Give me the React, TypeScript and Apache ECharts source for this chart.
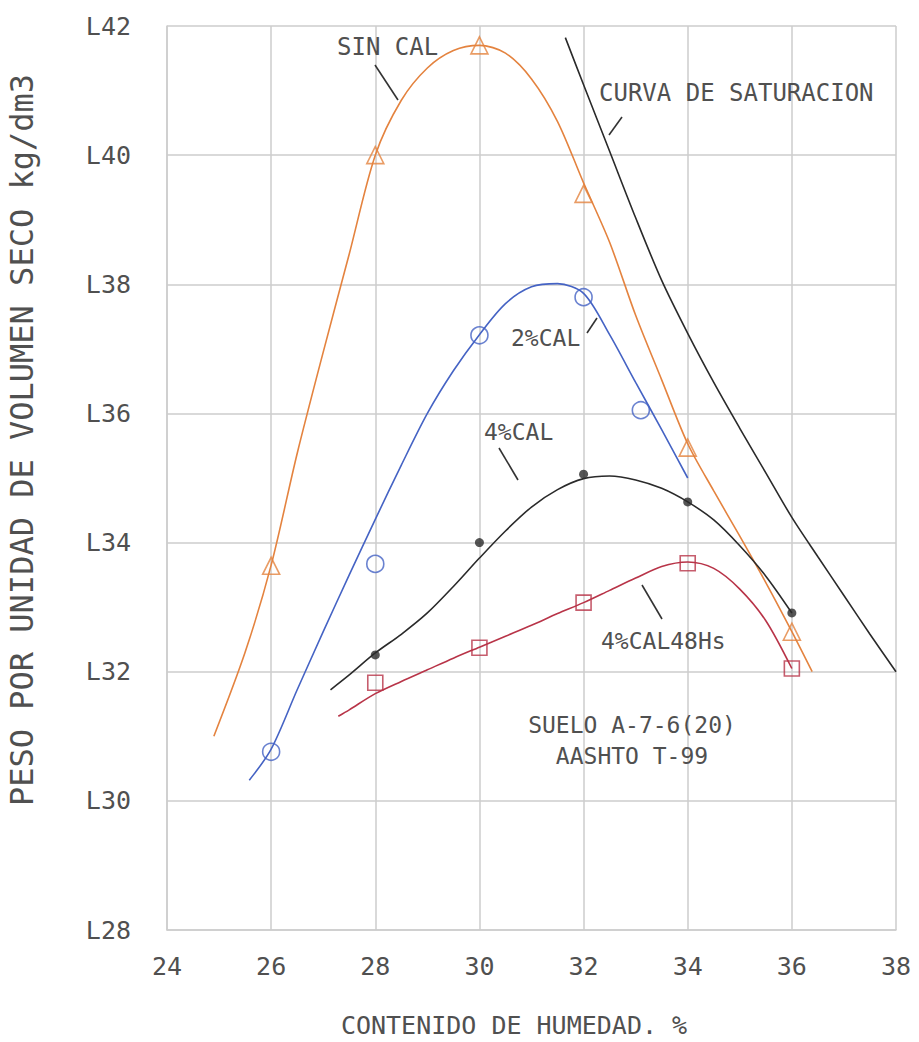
import React, { useEffect, useRef } from "react";
import * as echarts from "echarts";

// ---- Data ----
const xTicks = [24, 26, 28, 30, 32, 34, 36, 38];
const yTickLabels = ["L28", "L30", "L32", "L34", "L36", "L38", "L40", "L42"];

// SIN CAL (triangles)
const sinCalX = [26, 28, 30, 32, 34, 36];
const sinCalY = [1.3364, 1.4, 1.417, 1.394, 1.3547, 1.3262];
const sinCalCurve = [
  [24.9, 1.31], [25.5, 1.323], [26, 1.3365], [26.5, 1.3538], [27, 1.3695], [27.5, 1.3847],
  [28, 1.4], [28.5, 1.4085], [29, 1.4135], [29.5, 1.4162], [30, 1.417], [30.5, 1.4158],
  [31, 1.4118], [31.5, 1.4052], [32, 1.3957], [32.5, 1.3865], [33, 1.3752], [33.5, 1.3652],
  [34, 1.3553], [34.5, 1.348], [35, 1.341], [35.5, 1.3338], [36, 1.3262], [36.39, 1.32],
];

// 2% CAL (circles)
const cal2X = [26, 28, 30, 32, 33.1];
const cal2Y = [1.3076, 1.3367, 1.3721, 1.378, 1.3605];
const cal2Curve = [
  [25.58, 1.3032], [26, 1.308], [26.5, 1.3172], [27, 1.3262], [27.5, 1.335], [28, 1.3436],
  [28.5, 1.352], [29, 1.36], [29.5, 1.3666], [30, 1.3722], [30.5, 1.377], [31, 1.3796],
  [31.5, 1.3801], [32, 1.3786], [32.5, 1.3722], [33, 1.3648], [33.5, 1.3575], [34, 1.35],
];

// 4% CAL (filled dots)
const cal4X = [28, 30, 32, 34, 36];
const cal4Y = [1.3226, 1.34, 1.3506, 1.3463, 1.3291];
const cal4Curve = [
  [27.14, 1.3172], [27.5, 1.3195], [28, 1.3229], [28.5, 1.3258], [29, 1.3291], [29.5, 1.3332],
  [30, 1.3376], [30.5, 1.3418], [31, 1.3455], [31.5, 1.3482], [32, 1.3499], [32.5, 1.3503],
  [33, 1.3497], [33.5, 1.3484], [34, 1.3463], [34.5, 1.3435], [35, 1.3395], [35.5, 1.3348],
  [36, 1.3291],
];

// 4% CAL 48Hs (squares)
const cal48X = [28, 30, 32, 34, 36];
const cal48Y = [1.3183, 1.3237, 1.3307, 1.3368, 1.3205];
const cal48Curve = [
  [27.29, 1.3131], [27.5, 1.3141], [28, 1.3166], [28.5, 1.3185], [29, 1.3203], [29.5, 1.3221],
  [30, 1.3238], [30.5, 1.3255], [31, 1.3272], [31.5, 1.329], [32, 1.3307], [32.5, 1.3326],
  [33, 1.3345], [33.5, 1.3363], [34, 1.337], [34.5, 1.336], [35, 1.3328], [35.5, 1.3279],
  [36, 1.3205],
];

// Curva de saturacion
const satCurve = [
  [31.65, 1.4182], [32, 1.4109], [32.5, 1.4006], [33, 1.3903], [33.5, 1.3806], [34, 1.3724],
  [34.5, 1.3648], [35, 1.3577], [35.5, 1.3508], [36, 1.3439], [36.5, 1.3378], [37, 1.3318],
  [37.5, 1.3258], [38, 1.32],
];

const FONT = '"DejaVu Sans Mono", monospace';
const TXT = "#505050";
const ORANGE = "#E4833F";
const BLUE = "#4563C4";
const BLACK = "#2a2a2a";
const RED = "#B83448";
const GRID = "#cdcdcd";

function zip(xs: number[], ys: number[]) {
  return xs.map((x, i) => [x, ys[i]]);
}

export default function App() {
  const ref = useRef<HTMLDivElement>(null);
  useEffect(() => {
    if (!ref.current) return;
    const chart = echarts.init(ref.current, null, { renderer: "svg" });

    const curve = (name: string, data: number[][], color: string) => ({
      name,
      type: "line",
      data,
      smooth: 0.3,
      showSymbol: false,
      symbol: "none",
      lineStyle: { color, width: 1.6 },
      z: 2,
    });
    const marks = (name: string, data: number[][], color: string, symbol: string, size: number, filled = false) => ({
      name,
      type: "scatter",
      data,
      symbol,
      symbolSize: size,
      itemStyle: filled
        ? { color }
        : { color: "transparent", borderColor: color, borderWidth: 1.6 },
      z: 3,
    });

    const lbl = (text: string, x: number, y: number, size = 24, align = "left") => ({
      type: "text",
      x,
      y,
      style: {
        text,
        font: `${size}px ${FONT}`,
        fill: TXT,
        textAlign: align,
        textVerticalAlign: "middle",
      },
      z: 10,
    });
    const leader = (x1: number, y1: number, x2: number, y2: number) => ({
      type: "line",
      shape: { x1, y1, x2, y2 },
      style: { stroke: "#333", lineWidth: 1.6 },
      z: 10,
    });

    chart.setOption({
      animation: false,
      backgroundColor: "#fff",
      grid: { left: 167, right: 23, top: 26, bottom: 112 },
      xAxis: {
        type: "value",
        min: xTicks[0],
        max: xTicks[xTicks.length - 1],
        interval: 2,
        axisLine: { show: true, lineStyle: { color: GRID, width: 1.5 } },
        axisTick: { show: false },
        splitLine: { show: true, lineStyle: { color: GRID, width: 1.5 } },
        axisLabel: { margin: 24, fontFamily: FONT, fontSize: 25, color: TXT },
      },
      yAxis: {
        type: "value",
        min: 1.28,
        max: 1.42,
        interval: 0.02,
        axisLine: { show: true, lineStyle: { color: GRID, width: 1.5 } },
        axisTick: { show: false },
        splitLine: { show: true, lineStyle: { color: GRID, width: 1.5 } },
        axisLabel: {
          margin: 36,
          fontFamily: FONT,
          fontSize: 25,
          color: TXT,
          formatter: (v: number) => yTickLabels[Math.round((v - 1.28) / 0.02)] ?? "",
        },
      },
      series: [
        curve("SIN CAL", sinCalCurve, ORANGE),
        curve("2%CAL", cal2Curve, BLUE),
        curve("4%CAL", cal4Curve, BLACK),
        curve("4%CAL48Hs", cal48Curve, RED),
        curve("CURVA DE SATURACION", satCurve, BLACK),
        marks("SIN CAL pts", zip(sinCalX, sinCalY), ORANGE, "triangle", 17),
        marks("2%CAL pts", zip(cal2X, cal2Y), BLUE, "circle", 17),
        marks("4%CAL pts", zip(cal4X, cal4Y), BLACK, "circle", 9, true),
        marks("4%CAL48Hs pts", zip(cal48X, cal48Y), RED, "rect", 15),
      ],
      graphic: [
        lbl("SIN CAL", 337, 47, 24),
        leader(375, 65, 398, 100),
        lbl("CURVA DE SATURACION", 599, 93, 24),
        leader(622, 117, 609, 135),
        lbl("2%CAL", 511, 338, 23),
        leader(587, 333, 597, 318),
        lbl("4%CAL", 484, 432, 23),
        leader(499, 448, 518, 480),
        lbl("4%CAL48Hs", 601, 641, 23),
        leader(642, 585, 662, 619),
        lbl("SUELO A-7-6(20)", 632, 725, 23, "center"),
        lbl("AASHTO T-99", 632, 756, 23, "center"),
        lbl("CONTENIDO DE HUMEDAD. %", 514, 1025, 25, "center"),
        {
          type: "text",
          x: 22,
          y: 440,
          rotation: Math.PI / 2,
          style: {
            text: "PESO POR UNIDAD DE VOLUMEN SECO kg/dm3",
            font: `32px ${FONT}`,
            fill: TXT,
            textAlign: "center",
            textVerticalAlign: "middle",
          },
          z: 10,
        },
      ],
    });
    return () => chart.dispose();
  }, []);

  return (
    <div
      ref={ref}
      style={{ position: "fixed", left: 0, top: 0, width: 919, height: 1042, background: "#fff" }}
    />
  );
}
